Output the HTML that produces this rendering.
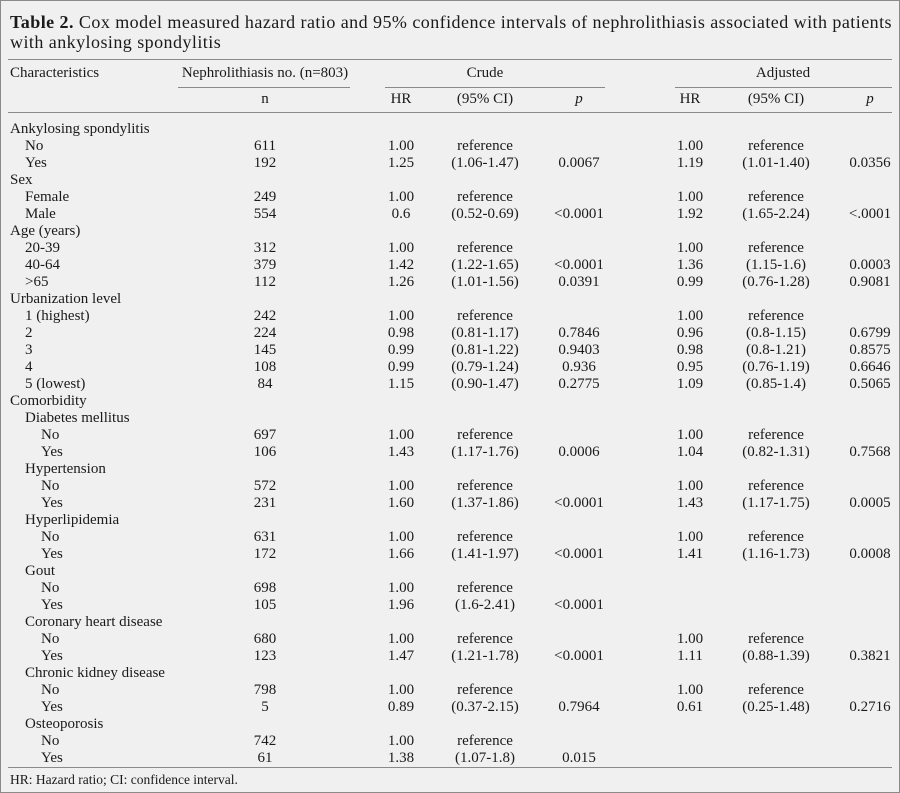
<!DOCTYPE html>
<html><head><meta charset="utf-8"><style>
html,body{margin:0;padding:0}
body{width:900px;height:793px;background:#f0f0f0;position:relative;overflow:hidden;font-family:"Liberation Serif","DejaVu Serif",serif;color:#1a1a1a;font-size:15px}
.frame{position:absolute;left:0;top:0;width:898px;height:791px;border:1px solid #8a8a8a}
.t{position:absolute;left:10px;font-size:18px;letter-spacing:0.45px;line-height:20px;white-space:nowrap}
.hl{position:absolute;height:1px;background:#8a8a8a}
.hd{position:absolute;line-height:17px;white-space:nowrap}
.c{position:absolute;width:140px;margin-left:-70px;text-align:center;white-space:nowrap}
#rows{position:absolute;left:0;top:121px;width:900px}
.r{position:relative;height:17px;line-height:17px}
.r span{position:absolute;white-space:nowrap}
.r .l{left:10px}.r .l1{left:25px}.r .l2{left:41px}
.r .n,.r .a,.r .b,.r .p,.r .d,.r .e,.r .q{width:140px;margin-left:-70px;text-align:center}
.r .n{left:265px}.r .a{left:401px}.r .b{left:485px}.r .p{left:579px}.r .d{left:690px}.r .e{left:776px}.r .q{left:870px}
.foot{position:absolute;left:10px;top:772px;font-size:13.5px;line-height:16px}
</style></head><body>
<div class="frame"></div>
<div class="t" style="top:12px"><b>Table 2.</b> Cox model measured hazard ratio and 95% confidence intervals of nephrolithiasis associated with patients</div>
<div class="t" style="top:32px">with ankylosing spondylitis</div>
<div class="hl" style="left:8px;width:884px;top:59px"></div>
<div class="hd" style="left:10px;top:65px">Characteristics</div>
<div class="hd c" style="left:265px;top:65px;width:200px;margin-left:-100px">Nephrolithiasis no. (n=803)</div>
<div class="hd c" style="left:485px;top:65px">Crude</div>
<div class="hd c" style="left:783px;top:65px">Adjusted</div>
<div class="hl" style="left:178px;width:172px;top:87px"></div>
<div class="hl" style="left:385px;width:220px;top:87px"></div>
<div class="hl" style="left:675px;width:217px;top:87px"></div>
<div class="hd c" style="left:265px;top:91px">n</div>
<div class="hd c" style="left:401px;top:91px">HR</div>
<div class="hd c" style="left:485px;top:91px">(95% CI)</div>
<div class="hd c" style="left:579px;top:91px"><i>p</i></div>
<div class="hd c" style="left:690px;top:91px">HR</div>
<div class="hd c" style="left:776px;top:91px">(95% CI)</div>
<div class="hd c" style="left:870px;top:91px"><i>p</i></div>
<div class="hl" style="left:8px;width:884px;top:112px"></div>
<div id="rows">
<div class="r"><span class="l">Ankylosing spondylitis</span></div>
<div class="r"><span class="l1">No</span><span class="n">611</span><span class="a">1.00</span><span class="b">reference</span><span class="d">1.00</span><span class="e">reference</span></div>
<div class="r"><span class="l1">Yes</span><span class="n">192</span><span class="a">1.25</span><span class="b">(1.06-1.47)</span><span class="p">0.0067</span><span class="d">1.19</span><span class="e">(1.01-1.40)</span><span class="q">0.0356</span></div>
<div class="r"><span class="l">Sex</span></div>
<div class="r"><span class="l1">Female</span><span class="n">249</span><span class="a">1.00</span><span class="b">reference</span><span class="d">1.00</span><span class="e">reference</span></div>
<div class="r"><span class="l1">Male</span><span class="n">554</span><span class="a">0.6</span><span class="b">(0.52-0.69)</span><span class="p">&lt;0.0001</span><span class="d">1.92</span><span class="e">(1.65-2.24)</span><span class="q">&lt;.0001</span></div>
<div class="r"><span class="l">Age (years)</span></div>
<div class="r"><span class="l1">20-39</span><span class="n">312</span><span class="a">1.00</span><span class="b">reference</span><span class="d">1.00</span><span class="e">reference</span></div>
<div class="r"><span class="l1">40-64</span><span class="n">379</span><span class="a">1.42</span><span class="b">(1.22-1.65)</span><span class="p">&lt;0.0001</span><span class="d">1.36</span><span class="e">(1.15-1.6)</span><span class="q">0.0003</span></div>
<div class="r"><span class="l1">&gt;65</span><span class="n">112</span><span class="a">1.26</span><span class="b">(1.01-1.56)</span><span class="p">0.0391</span><span class="d">0.99</span><span class="e">(0.76-1.28)</span><span class="q">0.9081</span></div>
<div class="r"><span class="l">Urbanization level</span></div>
<div class="r"><span class="l1">1 (highest)</span><span class="n">242</span><span class="a">1.00</span><span class="b">reference</span><span class="d">1.00</span><span class="e">reference</span></div>
<div class="r"><span class="l1">2</span><span class="n">224</span><span class="a">0.98</span><span class="b">(0.81-1.17)</span><span class="p">0.7846</span><span class="d">0.96</span><span class="e">(0.8-1.15)</span><span class="q">0.6799</span></div>
<div class="r"><span class="l1">3</span><span class="n">145</span><span class="a">0.99</span><span class="b">(0.81-1.22)</span><span class="p">0.9403</span><span class="d">0.98</span><span class="e">(0.8-1.21)</span><span class="q">0.8575</span></div>
<div class="r"><span class="l1">4</span><span class="n">108</span><span class="a">0.99</span><span class="b">(0.79-1.24)</span><span class="p">0.936</span><span class="d">0.95</span><span class="e">(0.76-1.19)</span><span class="q">0.6646</span></div>
<div class="r"><span class="l1">5 (lowest)</span><span class="n">84</span><span class="a">1.15</span><span class="b">(0.90-1.47)</span><span class="p">0.2775</span><span class="d">1.09</span><span class="e">(0.85-1.4)</span><span class="q">0.5065</span></div>
<div class="r"><span class="l">Comorbidity</span></div>
<div class="r"><span class="l1">Diabetes mellitus</span></div>
<div class="r"><span class="l2">No</span><span class="n">697</span><span class="a">1.00</span><span class="b">reference</span><span class="d">1.00</span><span class="e">reference</span></div>
<div class="r"><span class="l2">Yes</span><span class="n">106</span><span class="a">1.43</span><span class="b">(1.17-1.76)</span><span class="p">0.0006</span><span class="d">1.04</span><span class="e">(0.82-1.31)</span><span class="q">0.7568</span></div>
<div class="r"><span class="l1">Hypertension</span></div>
<div class="r"><span class="l2">No</span><span class="n">572</span><span class="a">1.00</span><span class="b">reference</span><span class="d">1.00</span><span class="e">reference</span></div>
<div class="r"><span class="l2">Yes</span><span class="n">231</span><span class="a">1.60</span><span class="b">(1.37-1.86)</span><span class="p">&lt;0.0001</span><span class="d">1.43</span><span class="e">(1.17-1.75)</span><span class="q">0.0005</span></div>
<div class="r"><span class="l1">Hyperlipidemia</span></div>
<div class="r"><span class="l2">No</span><span class="n">631</span><span class="a">1.00</span><span class="b">reference</span><span class="d">1.00</span><span class="e">reference</span></div>
<div class="r"><span class="l2">Yes</span><span class="n">172</span><span class="a">1.66</span><span class="b">(1.41-1.97)</span><span class="p">&lt;0.0001</span><span class="d">1.41</span><span class="e">(1.16-1.73)</span><span class="q">0.0008</span></div>
<div class="r"><span class="l1">Gout</span></div>
<div class="r"><span class="l2">No</span><span class="n">698</span><span class="a">1.00</span><span class="b">reference</span></div>
<div class="r"><span class="l2">Yes</span><span class="n">105</span><span class="a">1.96</span><span class="b">(1.6-2.41)</span><span class="p">&lt;0.0001</span></div>
<div class="r"><span class="l1">Coronary heart disease</span></div>
<div class="r"><span class="l2">No</span><span class="n">680</span><span class="a">1.00</span><span class="b">reference</span><span class="d">1.00</span><span class="e">reference</span></div>
<div class="r"><span class="l2">Yes</span><span class="n">123</span><span class="a">1.47</span><span class="b">(1.21-1.78)</span><span class="p">&lt;0.0001</span><span class="d">1.11</span><span class="e">(0.88-1.39)</span><span class="q">0.3821</span></div>
<div class="r"><span class="l1">Chronic kidney disease</span></div>
<div class="r"><span class="l2">No</span><span class="n">798</span><span class="a">1.00</span><span class="b">reference</span><span class="d">1.00</span><span class="e">reference</span></div>
<div class="r"><span class="l2">Yes</span><span class="n">5</span><span class="a">0.89</span><span class="b">(0.37-2.15)</span><span class="p">0.7964</span><span class="d">0.61</span><span class="e">(0.25-1.48)</span><span class="q">0.2716</span></div>
<div class="r"><span class="l1">Osteoporosis</span></div>
<div class="r"><span class="l2">No</span><span class="n">742</span><span class="a">1.00</span><span class="b">reference</span></div>
<div class="r"><span class="l2">Yes</span><span class="n">61</span><span class="a">1.38</span><span class="b">(1.07-1.8)</span><span class="p">0.015</span></div>
</div>
<div class="hl" style="left:8px;width:884px;top:767px"></div>
<div class="foot">HR: Hazard ratio; CI: confidence interval.</div>
</body></html>
